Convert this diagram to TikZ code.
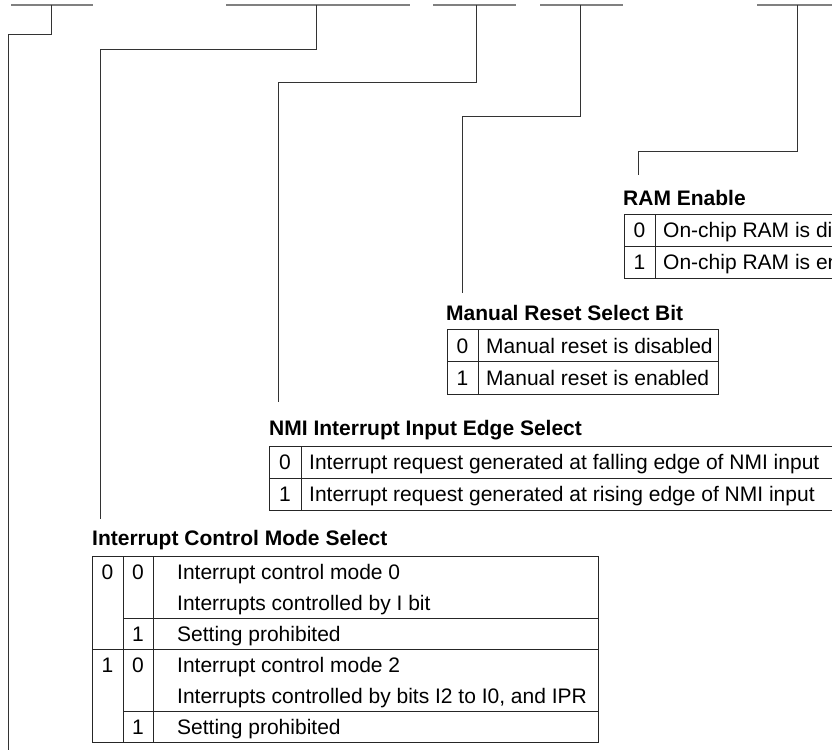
\documentclass[tikz,border=0pt]{standalone}
\usepackage{fontspec}
\setmainfont{Liberation Sans}
\begin{document}
\begin{tikzpicture}[x=1pt,y=-1pt,
  bar/.style={draw=black!50, line width=1.6pt},
  conn/.style={draw=black!80, line width=0.9pt},
  tbl/.style={draw=black!85, line width=0.9pt},
  ttl/.style={anchor=base west, inner sep=0pt, font=\bfseries\fontsize{21}{24}\selectfont},
  txt/.style={anchor=base west, inner sep=0pt, font=\fontsize{21}{24}\selectfont},
  dig/.style={anchor=base, inner sep=0pt, font=\fontsize{21}{24}\selectfont}]
\useasboundingbox (0,0) rectangle (832,752);

% top bars
\draw[bar] (11,5) -- (93,5);
\draw[bar] (226,5) -- (410,5);
\draw[bar] (433,5) -- (516,5);
\draw[bar] (540,5) -- (623,5);
\draw[bar] (757,5) -- (845,5);

% connector coordinates
\coordinate (b1) at (51,5);   \coordinate (k1) at (8,34);    \coordinate (e1) at (8,750);
\coordinate (b2) at (316,5);  \coordinate (k2) at (100,49);  \coordinate (e2) at (100,519);
\coordinate (b3) at (476,5);  \coordinate (k3) at (278,82);  \coordinate (e3) at (278,402);
\coordinate (b4) at (580,5);  \coordinate (k4) at (462,116); \coordinate (e4) at (462,293);
\coordinate (b5) at (797,5);  \coordinate (k5) at (638,151); \coordinate (e5) at (638,175);

\draw[conn] (b1) |- (k1) -- (e1);
\draw[conn] (b2) |- (k2) -- (e2);
\draw[conn] (b3) |- (k3) -- (e3);
\draw[conn] (b4) |- (k4) -- (e4);
\draw[conn] (b5) |- (k5) -- (e5);

% RAM Enable
\node[ttl] (ramt) at (623,205) {RAM Enable};
\draw[tbl] (845,214) -- (624,214) -- (624,278) -- (845,278);
\draw[tbl] (624,246) -- (845,246);
\draw[tbl] (655,214) -- (655,278);
\node[dig] (ram0) at (639.5,237.5) {0};
\node[dig] (ram1) at (639.5,269.5) {1};
\node[txt] (ram0t) at (663,237.5) {On-chip RAM is disabled};
\node[txt] (ram1t) at (663,269.5) {On-chip RAM is enabled};

% Manual Reset Select Bit
\node[ttl] (mrt) at (446,320) {Manual Reset Select Bit};
\draw[tbl] (447,329) rectangle (718,394);
\draw[tbl] (447,361.5) -- (718,361.5);
\draw[tbl] (478,329) -- (478,394);
\node[dig] (mr0) at (462.5,353) {0};
\node[dig] (mr1) at (462.5,385.5) {1};
\node[txt] (mr0t) at (486,353) {Manual reset is disabled};
\node[txt] (mr1t) at (486,385.5) {Manual reset is enabled};

% NMI Interrupt Input Edge Select
\node[ttl] (nmit) at (269,435) {NMI Interrupt Input Edge Select};
\draw[tbl] (845,446) -- (269,446) -- (269,510) -- (845,510);
\draw[tbl] (269,478) -- (845,478);
\draw[tbl] (301,446) -- (301,510);
\node[dig] (nmi0) at (285,469.5) {0};
\node[dig] (nmi1) at (285,501.5) {1};
\node[txt] (nmi0t) at (309,469.5) {Interrupt request generated at falling edge of NMI input};
\node[txt] (nmi1t) at (309,501.5) {Interrupt request generated at rising edge of NMI input};

% Interrupt Control Mode Select
\node[ttl] (icmt) at (92,545) {Interrupt Control Mode Select};
\draw[tbl] (92,556) rectangle (598,742);
\draw[tbl] (123,618) -- (598,618);
\draw[tbl] (92,649) -- (598,649);
\draw[tbl] (123,711) -- (598,711);
\draw[tbl] (123,556) -- (123,742);
\draw[tbl] (153,556) -- (153,742);
\node[dig] (ia0) at (107.5,579) {0};
\node[dig] (ib0) at (138,579) {0};
\node[txt] (it1) at (177,579) {Interrupt control mode 0};
\node[txt] (it2) at (177,610) {Interrupts controlled by I bit};
\node[dig] (ib1) at (138,641) {1};
\node[txt] (it3) at (177,641) {Setting prohibited};
\node[dig] (ia1) at (107.5,672) {1};
\node[dig] (ib2) at (138,672) {0};
\node[txt] (it4) at (177,672) {Interrupt control mode 2};
\node[txt] (it5) at (177,703) {Interrupts controlled by bits I2 to I0, and IPR};
\node[dig] (ib3) at (138,734) {1};
\node[txt] (it6) at (177,734) {Setting prohibited};
\end{tikzpicture}
\end{document}
